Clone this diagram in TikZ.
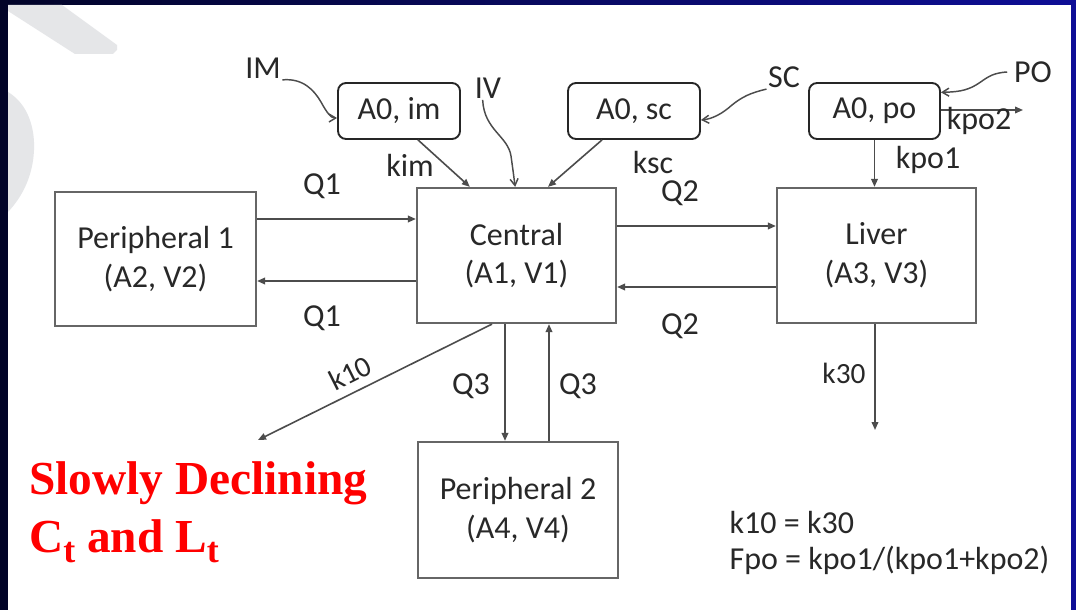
\documentclass[tikz,border=0pt]{standalone}
\usepackage{fontspec}
\setmainfont{Carlito}
\newfontfamily\tnr{Liberation Serif}
\usetikzlibrary{arrows.meta,calc}
\definecolor{navyL}{RGB}{2,4,40}
\definecolor{navyR}{RGB}{14,14,150}
\definecolor{wm}{RGB}{229,230,232}
\definecolor{ink}{RGB}{40,40,40}
\begin{document}
\begin{tikzpicture}[x=0.75pt,y=-0.75pt,
  box/.style={draw=black!60, line width=1.7pt, fill=white, inner sep=0pt, align=center,
    font=\fontsize{24}{29}\selectfont, text=ink},
  rbox/.style={draw=black!85, line width=1.4pt, rounded corners=6pt, fill=white, inner sep=0pt,
    font=\fontsize{24}{29}\selectfont, text=ink},
  lbl/.style={inner sep=1pt, font=\fontsize{24}{29}\selectfont, text=ink},
  slbl/.style={inner sep=1pt, font=\fontsize{22}{26}\selectfont, text=ink},
  arr/.style={draw=black!70, line width=1.2pt, -{Triangle[length=6pt,width=5pt]}},
  wav/.style={draw=black!70, line width=1.1pt, -{Straight Barb[length=5pt,width=6pt]}}
]
\useasboundingbox (0,0) rectangle (1076,610);
% background
\path[left color=navyL, right color=navyR] (0,0) rectangle (1076,610);
\fill[white] (8,5) rectangle (1071,610);
% watermark
\fill[wm] (8,5) -- (62,5) -- (117,45) -- (117,50) -- (113,54) -- (75,54) -- (8,11) -- cycle;
\fill[wm] (8,92) .. controls (28,104) and (35,128) .. (34,150) .. controls (33,175) and (23,196) .. (8,212) -- cycle;

% compartments
\node[box, minimum width=150.75pt, minimum height=100.5pt] (p1) at (155.5,259) {Peripheral 1\\(A2, V2)};
\node[box, minimum width=149.25pt, minimum height=101.25pt] (c) at (516.5,255.5) {Central\\(A1, V1)};
\node[box, minimum width=149.25pt, minimum height=101.25pt] (lv) at (876.5,255.5) {Liver\\(A3, V3)};
\node[box, minimum width=150pt, minimum height=102pt] (p2) at (518,510) {Peripheral 2\\(A4, V4)};

% dosing depots
\node[rbox, minimum width=91.5pt, minimum height=42pt] (im) at (399,111) {A0, im};
\node[rbox, minimum width=99pt, minimum height=42pt] (sc) at (634,111) {A0, sc};
\node[rbox, minimum width=98.25pt, minimum height=42pt] (po) at (874.5,111) {A0, po};

% route labels
\node[lbl] (lIM) at (263,68) {IM};
\node[lbl] (lIV) at (488,88) {IV};
\node[lbl] (lSC) at (784,77) {SC};
\node[lbl] (lPO) at (1033,72) {PO};

% levels
\coordinate (yA) at (0,219);
\coordinate (yB) at (0,281);
\coordinate (yC) at (0,226);
\coordinate (yD) at (0,287);
\coordinate (x3a) at (505,0);
\coordinate (x3b) at (549,0);
\coordinate (k10end) at (258,440);
\coordinate (k30end) at (875,430);
\coordinate (kpo2end) at (1023,110);

% route curves
\draw[wav] (lIM.south east) .. controls (303,78) and (314,90) .. (321,102) .. controls (327,113) and (331,118) .. ([yshift=-5.25pt]im.west);
\draw[wav] ([xshift=-4pt]lIV.south) .. controls (484,130) and (508,136) .. (511,156) .. controls (513,170) and (514,178) .. ([xshift=-1pt]c.north);
\draw[wav] (lSC.south west) .. controls (750,93) and (742,97) .. (732,105) .. controls (722,114) and (712,119) .. ([yshift=-6.75pt]sc.east);
\draw[wav] ([xshift=-4pt]lPO.west) .. controls (990,73) and (986,79) .. (976,85) .. controls (966,91) and (956,92) .. ([yshift=14pt]po.east);

% absorption
\draw[arr] ([xshift=14.25pt]im.south) -- ([xshift=-35pt]c.north);
\draw[arr] ([xshift=-24pt]sc.south) -- ([xshift=23.6pt]c.north);
\draw[arr] (po.south) -- (po.south |- lv.north);
\draw[arr] ([yshift=0.75pt]po.east) -- (kpo2end);

% distribution
\draw[arr] (p1.east |- yA) -- (c.west |- yA);
\draw[arr] (c.west |- yB) -- (p1.east |- yB);
\draw[arr] (c.east |- yC) -- (lv.west |- yC);
\draw[arr] (lv.west |- yD) -- (c.east |- yD);
\draw[arr] (c.south -| x3a) -- (p2.north -| x3a);
\draw[arr] (p2.north -| x3b) -- (c.south -| x3b);

% elimination
\draw[arr] ([xshift=-18.4pt]c.south) -- (k10end);
\draw[arr] (lv.south -| k30end) -- (k30end);

% connector labels
\node[lbl] (tkim) at (410,165) {kim};
\node[lbl] (tksc) at (653,163) {ksc};
\node[lbl] (tkpo1) at (928,160) {kpo1};
\node[lbl] (tkpo2) at (979,121) {kpo2};
\node[lbl] (tq1a) at (322,186) {Q1};
\node[lbl] (tq1b) at (322,318) {Q1};
\node[lbl] (tq2a) at (680,193) {Q2};
\node[lbl] (tq2b) at (680,326) {Q2};
\node[lbl] (tq3a) at (471,386) {Q3};
\node[lbl] (tq3b) at (578,386) {Q3};
\node[slbl, rotate=26.6] (tk10) at (350,373) {k10};
\node[slbl] (tk30) at (844,373) {k30};

% notes
\node[lbl, anchor=west] (eq1) at (728,522) {k10 = k30};
\node[lbl, anchor=west] (eq2) at (728,560) {Fpo = kpo1/(kpo1+kpo2)};

% red annotation
\node[anchor=base west, inner sep=0pt, text=red, font=\tnr\bfseries\fontsize{35.5}{42}\selectfont] (red1) at (29,494) {Slowly Declining};
\node[anchor=base west, inner sep=0pt, text=red, font=\tnr\bfseries\fontsize{35.5}{42}\selectfont] (red2) at (29,552)
  {C\raisebox{-8pt}{\fontsize{27}{30}\selectfont t} and L\raisebox{-8pt}{\fontsize{27}{30}\selectfont t}};
\end{tikzpicture}
\end{document}
